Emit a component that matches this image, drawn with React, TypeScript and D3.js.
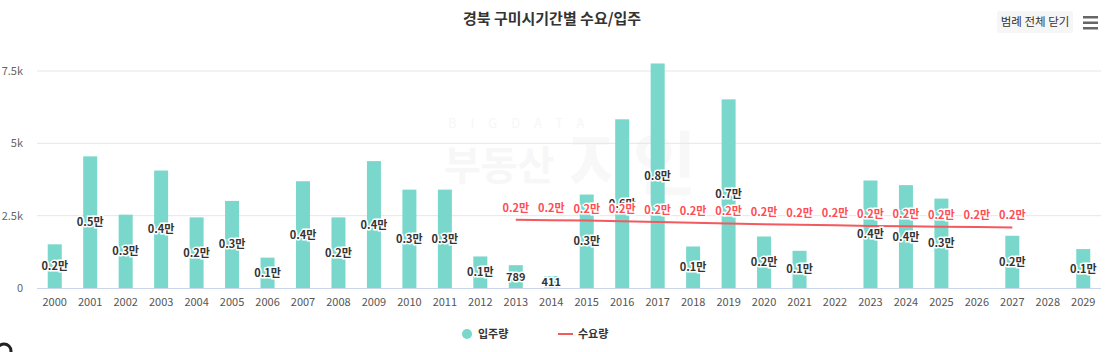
import React from "react";
import * as d3 from "d3";

const years = d3.range(2000, 2030).map(String);

// 입주량 (null = no bar)
const supply: (number | null)[] = [
  1510, 4550, 2535, 4060, 2440, 3010, 1050, 3690, 2440, 4385,
  3400, 3400, 1090, 789, 411, 3230, 5830, 7760, 1435, 6520,
  1780, 1285, null, 3715, 3555, 3090, null, 1805, null, 1345,
];

// 수요량 (2013 ~ 2027)
const demandYears = d3.range(2013, 2028).map(String);
const demand = [
  2360, 2345, 2330, 2305, 2280, 2255, 2230, 2205, 2185, 2165,
  2145, 2130, 2115, 2105, 2095,
];

const yTicks = [0, 2500, 5000, 7500];
const yTickLabels = ["0", "2.5k", "5k", "7.5k"];

const W = 1105;
const H = 352;
const font = "'Noto Sans CJK KR', 'Noto Sans', sans-serif";

const fmt = (v: number) => (v >= 1000 ? (v / 10000).toFixed(1) + "만" : String(v));

const App = () => {
  const x = d3.scaleBand().domain(years).range([37, 1101]).paddingInner(0).paddingOuter(0);
  const y = d3.scaleLinear().domain([0, 7500]).range([288, 71]);
  const cx = (d: string) => (x(d) as number) + x.bandwidth() / 2;
  const barW = 14;

  const line = d3
    .line<number>()
    .x((_, i) => cx(demandYears[i]))
    .y((d) => y(d));

  return (
    <svg
      width={W}
      height={H}
      style={{ position: "absolute", left: 0, top: 0, background: "#fff" }}
      fontFamily={font}
    >
      {/* watermark */}
      <g opacity={0.45}>
        <text x={448} y={128} fontSize={13} letterSpacing={14} fill="#ededed">BIGDATA</text>
        <text x={444} y={180} fontSize={40} fontWeight={700} fill="#efefef">부동산</text>
        <text x={568} y={190} fontSize={70} fontWeight={700} fill="#f1f1f1">지인</text>
      </g>

      <text x={552} y={24} textAnchor="middle" fontSize={15} fontWeight={700} fill="#333">
        경북 구미시기간별 수요/입주
      </text>

      <rect x={997} y={11} width={76} height={22} rx={2} fill="#f6f6f6" />
      <text x={1035} y={26} textAnchor="middle" fontSize={11.5} fill="#333">
        범례 전체 닫기
      </text>
      <g fill="#666">
        <rect x={1083} y={16} width={15} height={2.5} />
        <rect x={1083} y={21.5} width={15} height={2.5} />
        <rect x={1083} y={27} width={15} height={2.5} />
      </g>

      {/* grid */}
      {yTicks.map((t, i) => (
        <g key={t}>
          {i > 0 && <line x1={37} x2={1101} y1={y(t)} y2={y(t)} stroke="#e6e6e6" />}
          <text x={23} y={y(t) + 4} textAnchor="end" fontSize={11} fill="#666">
            {yTickLabels[i]}
          </text>
        </g>
      ))}

      {/* bars */}
      {supply.map((v, i) =>
        v == null ? null : (
          <rect
            key={years[i]}
            x={cx(years[i]) - barW / 2}
            y={y(v)}
            width={barW}
            height={y(0) - y(v)}
            fill="#79d7cb"
          />
        )
      )}

      <line x1={37} x2={1101} y1={y(0) + 0.5} y2={y(0) + 0.5} stroke="#ccd6eb" />

      {/* x axis labels */}
      {years.map((d) => (
        <text key={d} x={cx(d)} y={306} textAnchor="middle" fontSize={11} fill="#555">
          {d}
        </text>
      ))}

      {/* demand line */}
      <path d={line(demand) as string} fill="none" stroke="#f25a5f" strokeWidth={2} />

      {/* bar labels */}
      {supply.map((v, i) =>
        v == null ? null : (
          <text
            key={"l" + years[i]}
            x={cx(years[i])}
            y={(y(v) + y(0)) / 2 + 4}
            textAnchor="middle"
            fontSize={11}
            fontWeight={700}
            fill="#333"
            stroke="#fff"
            strokeWidth={3}
            paintOrder="stroke"
          >
            {fmt(v)}
          </text>
        )
      )}

      {/* demand labels */}
      {demand.map((v, i) => (
        <text
          key={"d" + demandYears[i]}
          x={cx(demandYears[i])}
          y={y(v) - 8}
          textAnchor="middle"
          fontSize={11}
          fontWeight={700}
          fill="#ff4d55"
          stroke="#fff"
          strokeWidth={3}
          paintOrder="stroke"
        >
          {fmt(v)}
        </text>
      ))}

      {/* legend */}
      <circle cx={467} cy={334} r={5} fill="#79d7cb" />
      <text x={478} y={338} fontSize={11} fontWeight={700} fill="#333">입주량</text>
      <line x1={558} x2={573} y1={334} y2={334} stroke="#f25a5f" strokeWidth={2} />
      <text x={578} y={338} fontSize={11} fontWeight={700} fill="#333">수요량</text>

      <circle cx={4} cy={351} r={7} fill="none" stroke="#222" strokeWidth={3} />
    </svg>
  );
};

export default App;
